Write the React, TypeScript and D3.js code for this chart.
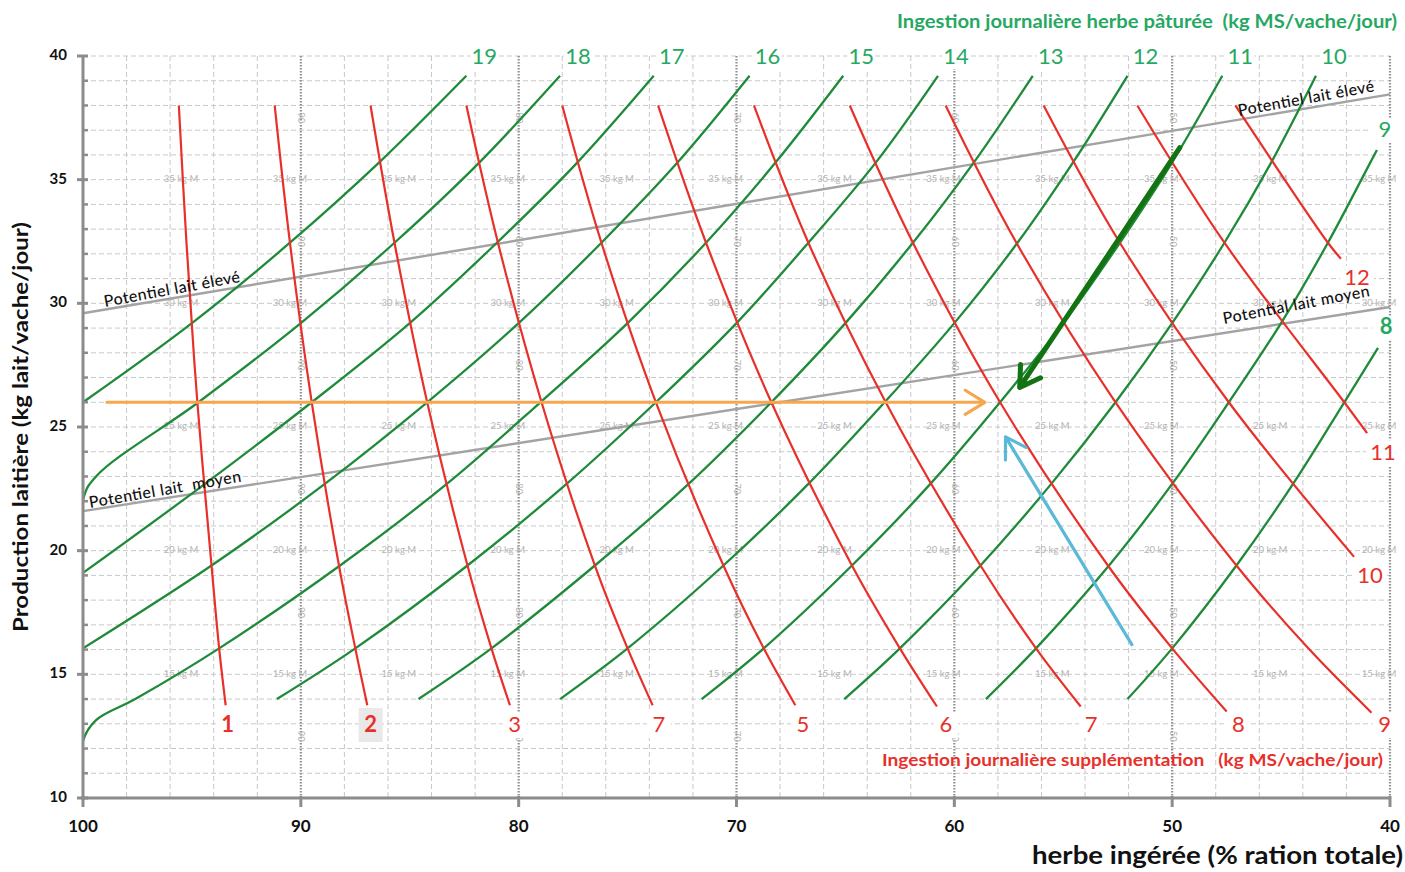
import * as d3 from 'd3';

const W = 1405
	, H = 872
	;

const herbeTicks = [100, 90, 80, 70, 60, 50, 40]
	, laitTicks = [10, 15, 20, 25, 30, 35, 40]
	;

// courbes herbe pâturée (kg MS/vache/jour) : [% herbe, kg lait]
const pature: {label: string; pts: number[][]}[] = [
	{label: '19', pts: [[100, 26], [95, 29.2], [90.5, 32.45], [86.4, 35.7], [82.4, 39.2]]}
	, {label: '18', pts: [[100, 10], [100, 22.05], [99.4, 23], [94.7, 26], [90, 29.2], [85.7, 32.45], [81.8, 35.7], [78.1, 39.2]]}
	, {label: '17', pts: [[100, 19.1], [94.4, 22.7], [89.5, 26], [85, 29.2], [81, 32.45], [77.3, 35.7], [73.8, 39.2]]}
	, {label: '16', pts: [[100, 16.05], [94.1, 19.4], [88.9, 22.7], [84.2, 26], [80, 29.2], [76.2, 32.45], [72.7, 35.7], [69.4, 39.2]]}
	, {label: '15', pts: [[100, 10], [100, 12.3], [99.4, 13.15], [97.6, 14], [93.75, 16.05], [88.2, 19.4], [83.3, 22.7], [79, 26], [75, 29.2], [71.4, 32.45], [68.2, 35.7], [65.1, 39.2]]}
	, {label: '14', pts: [[91.1, 14], [87.5, 16.05], [82.35, 19.4], [77.8, 22.7], [73.7, 26], [70, 29.2], [66.7, 32.45], [63.6, 35.7], [60.75, 39.2]]}
	, {label: '13', pts: [[84.6, 14], [81.25, 16.05], [76.5, 19.4], [72.2, 22.7], [68.4, 26], [65, 29.2], [61.9, 32.45], [59.1, 35.7], [56.4, 39.2]]}
	, {label: '12', pts: [[78.1, 14], [75, 16.05], [70.6, 19.4], [66.7, 22.7], [63.2, 26], [60, 29.2], [57.1, 32.45], [54.55, 35.7], [52.05, 39.2]]}
	, {label: '11', pts: [[71.6, 14], [68.75, 16.05], [64.7, 19.4], [61.1, 22.7], [57.9, 26], [55, 29.2], [52.4, 32.45], [50, 35.7], [47.7, 39.2]]}
	, {label: '10', pts: [[65.05, 14], [62.5, 16.05], [58.8, 19.4], [55.55, 22.7], [52.6, 26], [50, 29.2], [47.6, 32.45], [45.45, 35.7], [43.4, 39.2]]}
	, {label: '9', pts: [[58.55, 14], [56.25, 16.05], [52.9, 19.4], [50, 22.7], [47.4, 26], [45, 29.2], [42.85, 32.45], [40.9, 35.7], [40.6, 36.2]]}
	, {label: '8', pts: [[52.05, 14], [50, 16.05], [47.05, 19.4], [44.45, 22.7], [42.1, 26], [40.55, 28.2]]}
];

// courbes supplémentation (kg MS/vache/jour)
const supplement: {label: string; bold?: boolean; pts: number[][]}[] = [
	{label: '1', bold: true, pts: [[95.6, 38], [95.25, 32.45], [94.75, 26], [94.1, 19.4], [93.75, 16.05], [93.45, 13.75]]}
	, {label: '2', bold: true, pts: [[91.2, 38], [90.5, 32.45], [89.5, 26], [88.25, 19.4], [87.5, 16.05], [86.95, 13.75]]}
	, {label: '3', pts: [[86.8, 38], [85.7, 32.45], [84.2, 26], [82.35, 19.4], [81.25, 16.05], [80.4, 13.75]]}
	, {label: '7', pts: [[82.4, 38], [80.95, 32.45], [78.95, 26], [76.5, 19.4], [75, 16.05], [73.85, 13.75]]}
	, {label: '5', pts: [[78, 38], [76.2, 32.45], [73.7, 26], [70.6, 19.4], [68.75, 16.05], [67.3, 13.75]]}
	, {label: '6', pts: [[73.6, 38], [71.4, 32.45], [68.4, 26], [64.7, 19.4], [62.5, 16.05], [60.8, 13.7]]}
	, {label: '7', pts: [[69.2, 38], [66.7, 32.45], [63.15, 26], [58.8, 19.4], [56.25, 16.05], [54.2, 13.7]]}
	, {label: '8', pts: [[64.8, 38], [61.9, 32.45], [57.9, 26], [52.95, 19.4], [50, 16.05], [47.5, 13.5]]}
	, {label: '9', pts: [[60.4, 38], [57.15, 32.45], [52.6, 26], [47.05, 19.4], [43.75, 16.05], [40.85, 13.45]]}
	, {label: '10', pts: [[55.9, 38], [52.4, 32.45], [47.4, 26], [41.65, 19.75]]}
	, {label: '11', pts: [[51.6, 38], [47.6, 32.45], [42.1, 26], [41.05, 24.75]]}
	, {label: '12', pts: [[47.1, 38], [42.85, 32.45], [42.25, 31.8]]}
];

// droites de potentiel laitier
const potentiels = [
	{name: 'eleve', pts: [[100, 29.6], [40, 38.45]]}
	, {name: 'moyen', pts: [[100, 21.6], [40, 29.85]]}
];

// flèches de lecture : [départ, pointe]
const fleches = [
	{color: '#f7a650', w: 3.2, pts: [[98.9, 26], [58.6, 26]]}
	, {color: '#137313', w: 5, pts: [[49.65, 36.3], [57, 26.6]]}
	, {color: '#5ab9d6', w: 3.2, pts: [[51.85, 16.2], [57.65, 24.6]]}
];

const font = 'Lato, "Open Sans", sans-serif'
	, vert = '#1f8a3a'
	, vertTxt = '#27a862'
	, rouge = '#e8302a'
	, gris = '#8c8c8c'
	;

function App(){
	let x = d3.scaleLinear().domain([100, 40]).range([83, 1390])
		, y = d3.scaleLinear().domain([10, 40]).range([798, 56])
		, line = d3.line<number[]>().x((d)=>x(d[0])).y((d)=>y(d[1])).curve(d3.curveCatmullRom.alpha(0.5))
		, straight = d3.line<number[]>().x((d)=>x(d[0])).y((d)=>y(d[1]))
		, minorY = d3.range(11, 41, 1)
		, minorX = d3.range(98, 40, -2)
		, faintX = d3.range(95.5, 40, -5)
		, faintY = [35, 30, 25, 20, 15]
		, rotY = [37.5, 32.5, 27.5, 22.5, 17.5, 12.5]
		;

	function arrow(p: number[][], len: number, spread: number){
		let x1 = x(p[0][0]), y1 = y(p[0][1]), x2 = x(p[1][0]), y2 = y(p[1][1])
			, a = Math.atan2(y2 - y1, x2 - x1)
			, l = [a + Math.PI - spread, a + Math.PI + spread].map((b)=>[x2 + Math.cos(b) * len, y2 + Math.sin(b) * len])
			;
		return `M${x1},${y1}L${x2},${y2}M${l[0][0]},${l[0][1]}L${x2},${y2}L${l[1][0]},${l[1][1]}`;
	}

	function box(cx: number, cy: number, w: number, h: number, fill = '#fff'){
		return <rect x={cx - w / 2} y={cy - h / 2} width={w} height={h} fill={fill} />;
	}

	return (<svg width={W} height={H} style={{position: 'absolute', left: 0, top: 0, background: '#fff'}} fontFamily={font}>
		<defs>
			<clipPath id="plot"><rect x={83} y={56} width={1307} height={742} /></clipPath>
		</defs>

		{/* grille */}
		<g stroke="#c9c9c9" strokeWidth={1} strokeDasharray="5 3">
			{minorY.map((v)=><line key={'h' + v} x1={83} x2={1390} y1={y(v)} y2={y(v)} />)}
			{minorX.filter((v)=>v % 10 !== 0).map((v)=><line key={'v' + v} x1={x(v)} x2={x(v)} y1={56} y2={798} />)}
		</g>
		<g stroke="#909090" strokeWidth={2.2} strokeDasharray="1.5 1.5">
			{herbeTicks.slice(1).map((v)=><line key={v} x1={x(v)} x2={x(v)} y1={56} y2={798} />)}
		</g>

		{/* étiquettes pâles */}
		<g fill="#b5b5b5" fontSize={9.5} textAnchor="middle" dominantBaseline="middle">
			{faintY.map((v)=>faintX.map((u)=><text key={v + '_' + u} x={x(u)} y={y(v)}>{v} kg M</text>))}
			{herbeTicks.slice(1, 6).map((u)=>rotY.map((v)=><text key={u + '_' + v} transform={`translate(${x(u)},${y(v)}) rotate(90)`}>{u}</text>))}
		</g>

		{/* potentiels */}
		<g stroke="#a3a3a3" strokeWidth={2.4} fill="none">
			{potentiels.map((p)=><path key={p.name} d={straight(p.pts) || ''} />)}
		</g>

		<g clipPath="url(#plot)" fill="none">
			{pature.map((c)=><path key={'g' + c.label} d={line(c.pts) || ''} stroke={vert} strokeWidth={2.3} />)}
			{supplement.map((c, i)=><path key={'r' + i} d={line(c.pts) || ''} stroke={rouge} strokeWidth={2.2} />)}
		</g>

		{/* axes */}
		<g stroke={gris}>
			<line x1={83} x2={83} y1={56} y2={800} strokeWidth={3} />
			<line x1={82} x2={1391} y1={798} y2={798} strokeWidth={3} />
			{minorY.filter((v)=>v % 5 !== 0).map((v)=><line key={v} x1={83} x2={88} y1={y(v)} y2={y(v)} strokeWidth={2.5} />)}
			{laitTicks.map((v)=><line key={v} x1={77} x2={88} y1={y(v)} y2={y(v)} strokeWidth={3} />)}
			{herbeTicks.map((v)=><line key={v} x1={x(v)} x2={x(v)} y1={796} y2={807} strokeWidth={3} />)}
		</g>
		<g fontWeight="bold" fill="#111">
			{laitTicks.map((v)=><text key={v} x={67} y={y(v)} fontSize={15} textAnchor="end" dominantBaseline="middle">{v}</text>)}
			{herbeTicks.map((v)=><text key={v} x={x(v)} y={828} fontSize={17} textAnchor="middle" dominantBaseline="middle">{v}</text>)}
		</g>

		{/* flèches */}
		<g fill="none" strokeLinecap="round" strokeLinejoin="round">
			{fleches.map((f, i)=><path key={i} d={arrow(f.pts, 23, 0.55)} stroke={f.color} strokeWidth={f.w} />)}
		</g>

		{/* étiquettes herbe pâturée */}
		<g fill={vertTxt} fontSize={22} textAnchor="middle" dominantBaseline="middle">
			{pature.map((c)=>{
				let e = c.pts[c.pts.length - 1]
					, top = e[1] > 39
					, lx = x(e[0]) + (top ? 18 : 8)
					, ly = top ? 57 : y(e[1]) - 20
					;
				return (<g key={c.label}>
					{box(lx, ly, 28, 24)}
					<text x={lx} y={ly + 1} fontWeight={c.label === '8' ? 'bold' : 'normal'}>{c.label}</text>
				</g>);
			})}
		</g>

		{/* étiquettes supplémentation */}
		<g fill={rouge} fontSize={22} textAnchor="middle" dominantBaseline="middle">
			{supplement.map((c, i)=>{
				let e = c.pts[c.pts.length - 1]
					, bottom = e[1] < 14
					, lx = bottom ? x(e[0]) + 2 + i * 1.4 : x(e[0]) + 16
					, ly = bottom ? 725 : y(e[1]) + 20
					;
				return (<g key={i}>
					{box(lx, ly, c.label.length > 1 ? 34 : 24, c.label === '2' ? 34 : 26, c.label === '2' ? '#e9e9e9' : '#fff')}
					<text x={lx} y={ly + 1} fontWeight={c.bold ? 'bold' : 'normal'}>{c.label}</text>
				</g>);
			})}
		</g>

		{/* textes des potentiels */}
		<g fill="#111" fontSize={16} fontWeight={500} lengthAdjust="spacingAndGlyphs">
			<text transform={`translate(105,307) rotate(-10.5)`} textLength={138}>Potentiel lait élevé</text>
			<text transform={`translate(1239,116) rotate(-10.3)`} textLength={138}>Potentiel lait élevé</text>
			<text transform={`translate(90,508) rotate(-9.9)`} textLength={154} style={{whiteSpace: 'pre'}}>Potentiel lait  moyen</text>
			<text transform={`translate(1224,324) rotate(-10.8)`} textLength={149}>Potential lait moyen</text>
		</g>

		{/* titres */}
		<text x={1397} y={23} fill={vertTxt} fontWeight="bold" fontSize={18.5} textAnchor="end" dominantBaseline="middle"
		      textLength={500} lengthAdjust="spacingAndGlyphs" style={{whiteSpace: 'pre'}}>Ingestion journalière herbe pâturée  (kg MS/vache/jour)</text>
		<text x={1383} y={762} fill={rouge} fontWeight="bold" fontSize={17} textAnchor="end" dominantBaseline="middle"
		      textLength={501} lengthAdjust="spacingAndGlyphs" style={{whiteSpace: 'pre'}}>Ingestion journalière supplémentation   (kg MS/vache/jour)</text>
		<text x={1403} y={858} fill="#111" fontWeight="bold" fontSize={25} textAnchor="end" dominantBaseline="middle"
		      textLength={371} lengthAdjust="spacingAndGlyphs">herbe ingérée (% ration totale)</text>
		<text transform="translate(23,427) rotate(-90)" fill="#111" fontWeight="bold" fontSize={21} textAnchor="middle" dominantBaseline="middle"
		      textLength={410} lengthAdjust="spacingAndGlyphs">Production laitière (kg lait/vache/jour)</text>
	</svg>);
}

export default App;
